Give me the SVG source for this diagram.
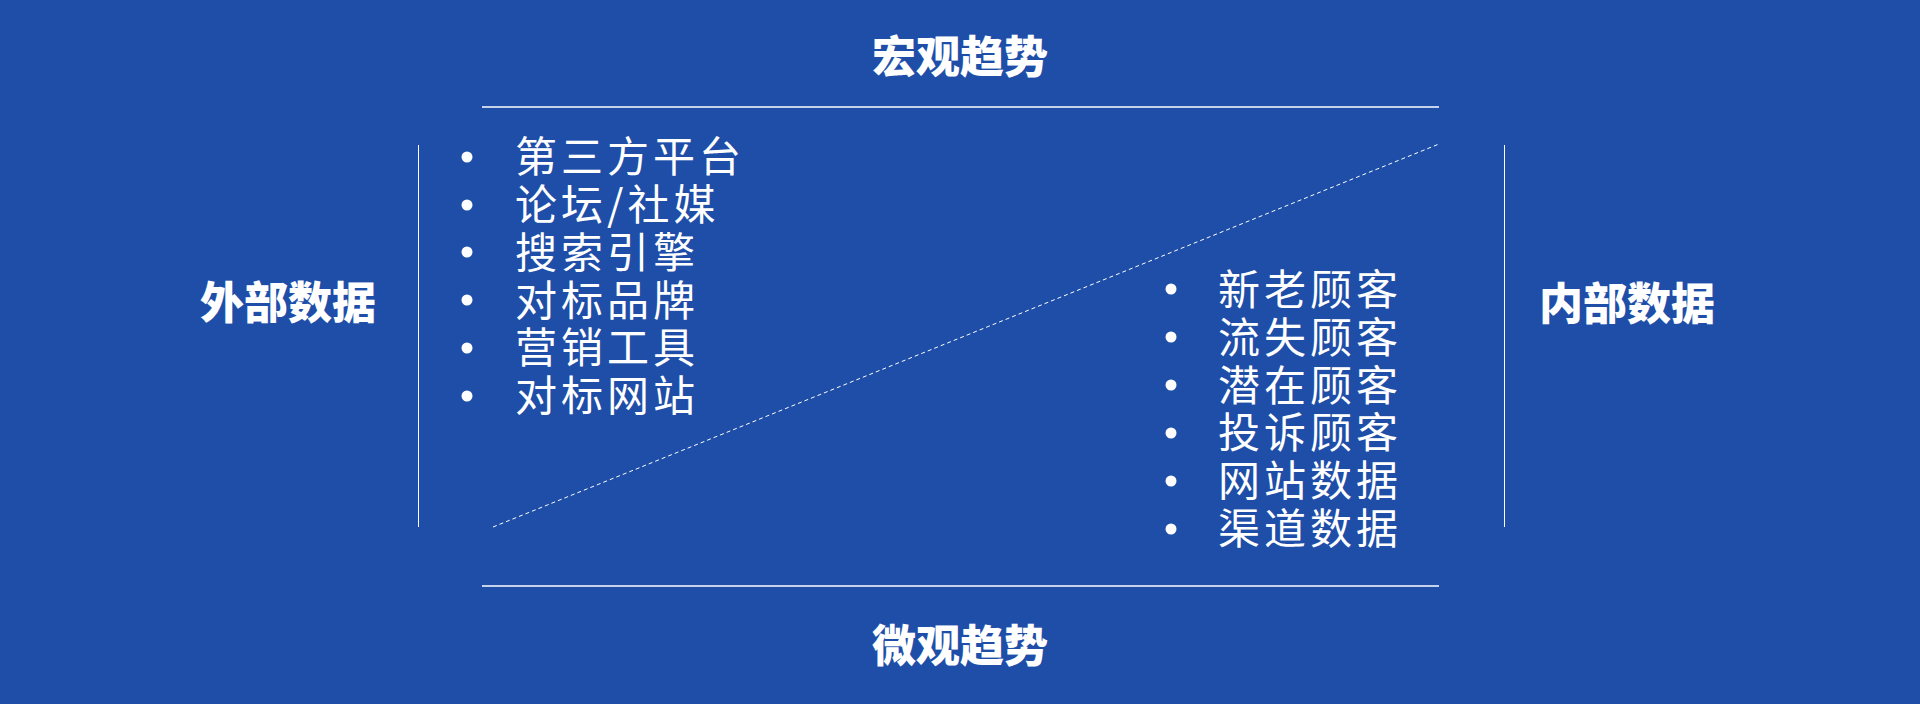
<svg xmlns="http://www.w3.org/2000/svg" width="1920" height="704" viewBox="0 0 1920 704">
<style>
.title{font-family:"Noto Sans CJK SC","Noto Sans",sans-serif;font-weight:900;font-size:44px;fill:#fff;text-anchor:middle}
.item{font-family:"Noto Sans CJK SC","Noto Sans",sans-serif;font-size:42px;fill:#fff;letter-spacing:4px}
.bullet{fill:#fff}
.line{stroke:#fff;stroke-width:1.5;fill:none}
.vline{stroke:#fff;stroke-width:1;fill:none}
.dash{stroke:#fff;stroke-width:1;stroke-dasharray:4 3;fill:none}
</style>
<rect width="1920" height="704" fill="#1E4EA8"/>
<g id="connectors">
<line class="line" x1="482" y1="107" x2="1439" y2="107"/>
<line class="line" x1="482" y1="586" x2="1439" y2="586"/>
<line class="vline" x1="418.5" y1="145" x2="418.5" y2="527"/>
<line class="vline" x1="1504.5" y1="145" x2="1504.5" y2="527"/>
<line class="dash" x1="493" y1="527" x2="1439" y2="144"/>
</g>
<g id="macro"><text class="title" x="960" y="73">宏观趋势</text></g>
<g id="micro"><text class="title" x="960" y="662">微观趋势</text></g>
<g id="external"><text class="title" x="288" y="319">外部数据</text></g>
<g id="internal"><text class="title" x="1627" y="320">内部数据</text></g>
<g id="external-list">
<circle class="bullet" cx="467" cy="157" r="5.5"/><text class="item" x="515" y="172">第三方平台</text>
<circle class="bullet" cx="467" cy="205" r="5.5"/><text class="item" x="515" y="220">论坛/社媒</text>
<circle class="bullet" cx="467" cy="252" r="5.5"/><text class="item" x="515" y="268">搜索引擎</text>
<circle class="bullet" cx="467" cy="300" r="5.5"/><text class="item" x="515" y="316">对标品牌</text>
<circle class="bullet" cx="467" cy="348" r="5.5"/><text class="item" x="515" y="363">营销工具</text>
<circle class="bullet" cx="467" cy="396" r="5.5"/><text class="item" x="515" y="411">对标网站</text>
</g>
<g id="internal-list">
<circle class="bullet" cx="1171" cy="289" r="5.5"/><text class="item" x="1218" y="305">新老顾客</text>
<circle class="bullet" cx="1171" cy="337" r="5.5"/><text class="item" x="1218" y="353">流失顾客</text>
<circle class="bullet" cx="1171" cy="385" r="5.5"/><text class="item" x="1218" y="401">潜在顾客</text>
<circle class="bullet" cx="1171" cy="433" r="5.5"/><text class="item" x="1218" y="448">投诉顾客</text>
<circle class="bullet" cx="1171" cy="481" r="5.5"/><text class="item" x="1218" y="496">网站数据</text>
<circle class="bullet" cx="1171" cy="529" r="5.5"/><text class="item" x="1218" y="544">渠道数据</text>
</g>
</svg>
